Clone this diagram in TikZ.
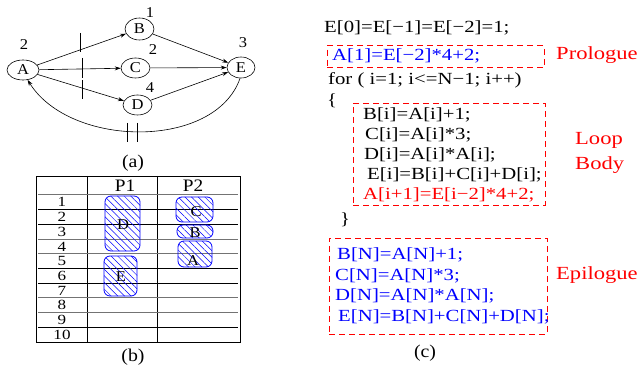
\documentclass[tikz,border=0pt]{standalone}
\usepackage{fontspec}
\setmainfont{Liberation Serif}
\newfontfamily\codefont[FakeStretch=1.22]{Liberation Serif}
\newfontfamily\figfont[FakeStretch=1.1]{Liberation Serif}
\usetikzlibrary{shapes.geometric,arrows.meta,patterns.meta}

\tikzset{
  vert/.style={ellipse, draw, line width=0.6pt, minimum width=30pt, minimum height=21pt,
    inner sep=0pt, font=\figfont\fontsize{15}{15}\selectfont},
  wt/.style={inner sep=0pt, font=\figfont\fontsize{15}{15}\selectfont},
  arr/.style={line width=0.6pt, -{Stealth[length=6pt,width=4pt]}},
  cutmark/.style={line width=0.8pt},
  captxt/.style={inner sep=0pt, font=\figfont\fontsize{18}{18}\selectfont},
  grid/.style={line width=0.6pt},
  gridg/.style={line width=1pt, black!55},
  rownum/.style={inner sep=0pt, font=\codefont\fontsize{14}{14}\selectfont},
  blob/.style={draw=blue, line width=0.8pt, rounded corners=6pt, inner sep=0pt,
    pattern={Lines[angle=-45,distance=4.7pt,line width=0.5pt]}, pattern color=blue},
  blabel/.style={inner sep=0pt, font=\figfont\fontsize{15}{15}\selectfont},
  code/.style={anchor=west, inner sep=0pt, font=\codefont\fontsize{17}{17}\selectfont,
    text height=12pt, text depth=3.5pt},
  tagtxt/.style={anchor=west, inner sep=0pt, red, font=\codefont\fontsize{18.5}{18.5}\selectfont,
    text height=12.5pt, text depth=3.5pt},
  dbox/.style={draw=red, line width=0.9pt, dash pattern=on 6pt off 4pt, inner sep=0pt},
}

\begin{document}
\begin{tikzpicture}[x=1pt, y=-1pt]
\useasboundingbox (0,0) rectangle (639,371);

% ---------- (a) dependence graph ----------
\node[vert, minimum width=32pt, minimum height=20pt] (A) at (23,70) {A};
\node[vert, minimum width=29pt, minimum height=22pt] (B) at (139.5,29) {B};
\node[vert, minimum width=29pt, minimum height=20pt] (C) at (135.5,68) {C};
\node[vert, minimum width=29pt, minimum height=20pt] (D) at (137.5,105) {D};
\node[vert, minimum width=28pt, minimum height=21pt] (E) at (241,67.5) {E};

\node[wt] (wA) at (24,45) {2};
\node[wt] (wB) at (150,13) {1};
\node[wt] (wC) at (153,50) {2};
\node[wt] (wD) at (150,88) {4};
\node[wt] (wE) at (243,43) {3};

\draw[arr] (A) -- (B);
\draw[arr] (A) -- (C);
\draw[arr] (A) -- (D);
\draw[arr] (B) -- (E);
\draw[arr] (C) -- (E);
\draw[arr] (D) -- (E);
\draw[arr] (E.265) .. controls (215,150) and (70,148) .. (A.-65);

% iteration-distance marks
\draw[cutmark] (80,33) -- (80,52);
\draw[cutmark] (82,58) -- (82,78);
\draw[cutmark] (82,80) -- (82,99);
\draw[cutmark] (127,123) -- (127,142);
\draw[cutmark] (137,123) -- (137,142);

\node[captxt] (capa) at (133,163) {(a)};

% ---------- (b) schedule table ----------
\draw[grid] (36,176) rectangle (240,342);
\draw[grid] (87,176) -- (87,342);
\draw[grid] (157,176) -- (157,342);
\foreach \k in {1,2,5,6,9}
  \draw[grid] (38,195+14.7*\k) -- (238,195+14.7*\k);
\foreach \k in {0,3,4,7,8}
  \draw[gridg] (38,195+14.7*\k) -- (238,195+14.7*\k);
\node[inner sep=0pt, font=\figfont\fontsize{17.5}{17.5}\selectfont] (p1) at (125,186) {P1};
\node[inner sep=0pt, font=\figfont\fontsize{17.5}{17.5}\selectfont] (p2) at (193,186) {P2};
\foreach \k in {1,...,10}
  \node[rownum] (r\k) at (62,195+14.7*\k-7.35) {\k};

\node[blob, minimum width=35pt, minimum height=55pt] (bD) at (122.5,223.5) {};
\node[blob, minimum width=33pt, minimum height=40pt] (bE) at (120.5,276) {};
\node[blob, minimum width=37pt, minimum height=25pt] (bC) at (194.5,209.5) {};
\node[blob, minimum width=36pt, minimum height=13pt] (bB) at (195,231.5) {};
\node[blob, minimum width=34pt, minimum height=26pt] (bA) at (195,254) {};
\node[blabel] (lD) at (123,225) {D};
\node[blabel] (lE) at (121,277) {E};
\node[blabel] (lC) at (196,212) {C};
\node[blabel] (lB) at (195,233) {B};
\node[blabel] (lA) at (193,261) {A};

\node[captxt] (capb) at (133,357) {(b)};

% ---------- (c) software-pipelined code ----------
\node[code] (l0) at (324,28) {E[0]=E[−1]=E[−2]=1;};
\node[dbox, minimum width=217pt, minimum height=22pt] (pro) at (435.5,56.7) {};
\node[code, blue] (l1) at (332,56.7) {A[1]=E[−2]*4+2;};
\node[tagtxt] (tpro) at (556,55) {Prologue};
\node[code] (l2) at (328,80) {for ( i=1; i<=N−1; i++)};
\node[code] (l3) at (327,101) {\{};

\node[dbox, minimum width=192pt, minimum height=102pt] (body) at (449,154) {};
\node[code] (b1) at (363,115) {B[i]=A[i]+1;};
\node[code] (b2) at (365,135.5) {C[i]=A[i]*3;};
\node[code] (b3) at (364,155.5) {D[i]=A[i]*A[i];};
\node[code] (b4) at (367,175.5) {E[i]=B[i]+C[i]+D[i];};
\node[code, red] (b5) at (363,195.5) {A[i+1]=E[i−2]*4+2;};
\node[tagtxt] (tloop) at (575,140) {Loop};
\node[tagtxt] (tbody) at (575,165) {Body};
\node[code] (l4) at (340,220) {\}};

\node[dbox, minimum width=218pt, minimum height=96pt] (epi) at (438,286) {};
\node[code, blue] (e1) at (337,255) {B[N]=A[N]+1;};
\node[code, blue] (e2) at (335,276) {C[N]=A[N]*3;};
\node[code, blue] (e3) at (335,296) {D[N]=A[N]*A[N];};
\node[code, blue] (e4) at (338,317) {E[N]=B[N]+C[N]+D[N];};
\node[tagtxt] (tepi) at (556,275) {Epilogue};

\node[captxt] (capc) at (425,353) {(c)};
\end{tikzpicture}
\end{document}
